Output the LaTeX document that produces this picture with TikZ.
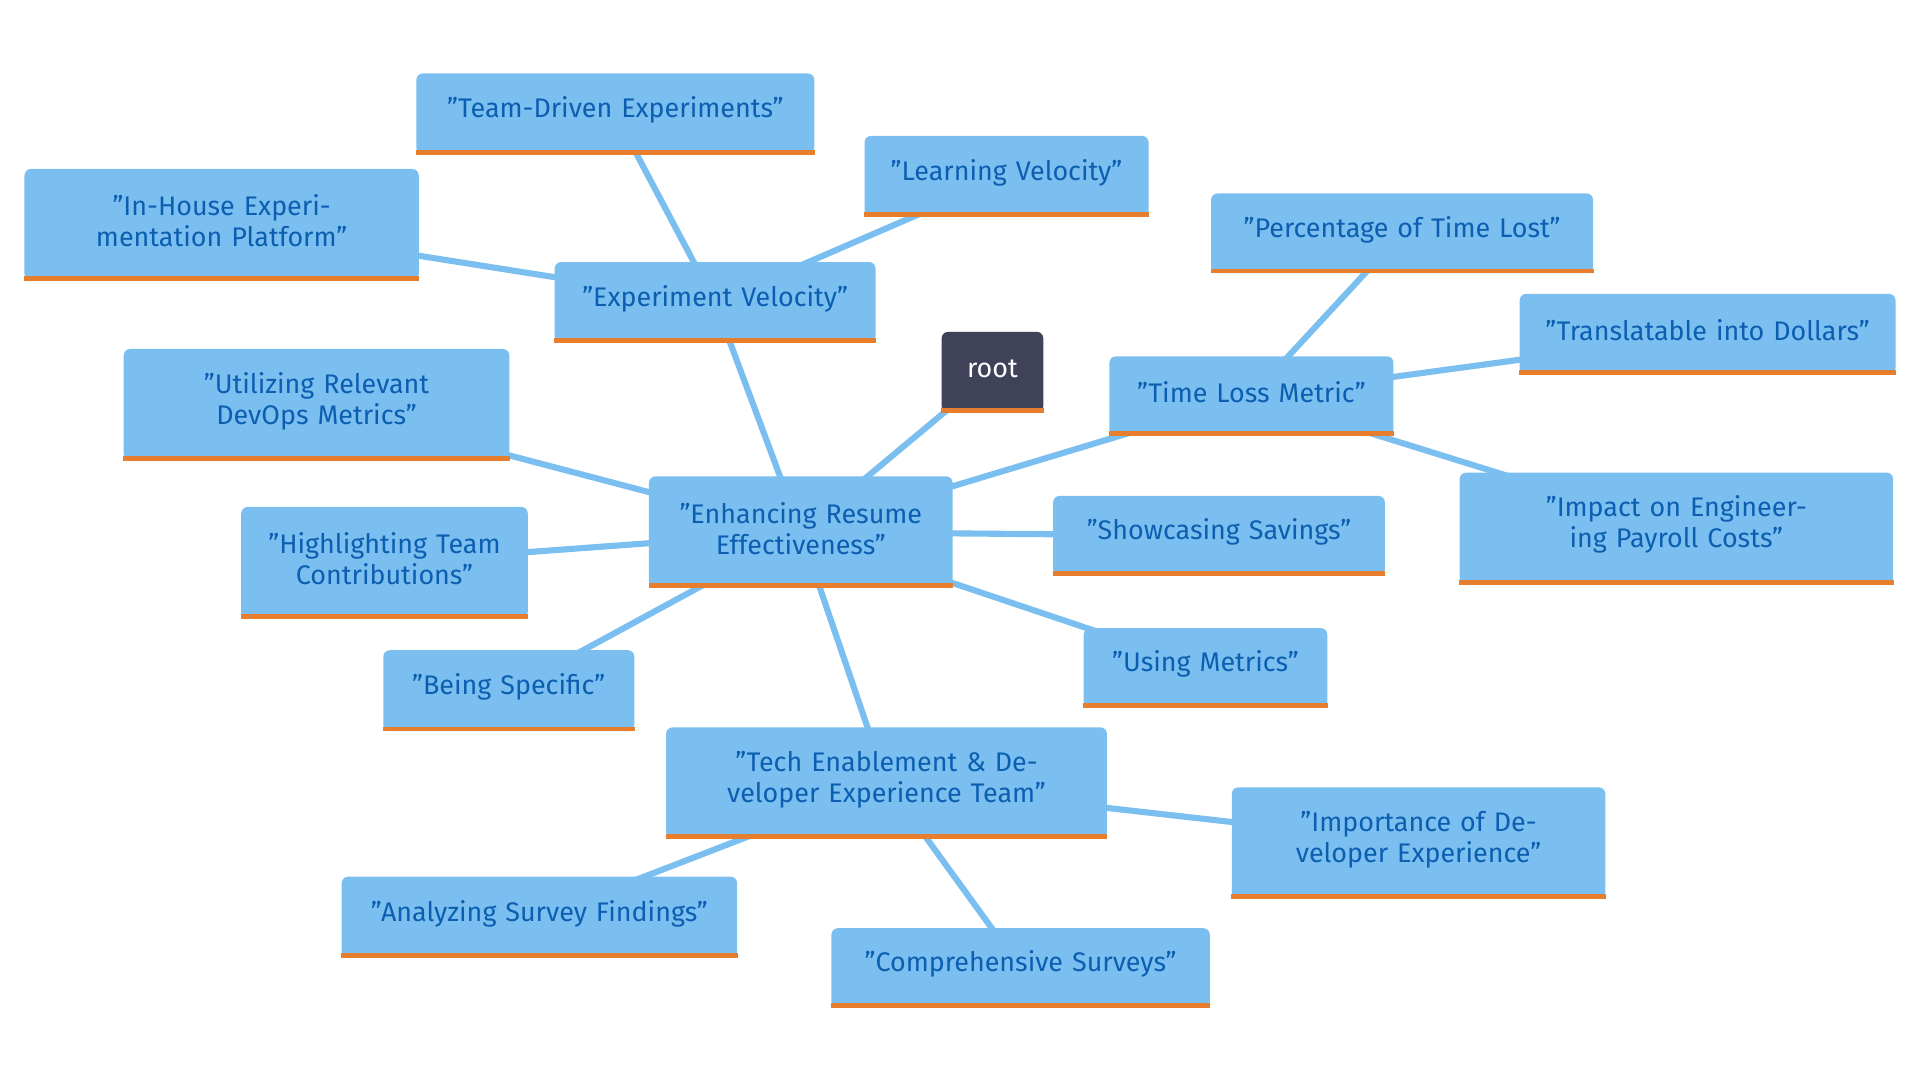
\documentclass[tikz,border=0pt]{standalone}
\usepackage{fontspec}
\setmainfont{Fira Sans}
\usetikzlibrary{backgrounds}
\definecolor{boxblue}{HTML}{7BBFF0}
\definecolor{textblue}{HTML}{0B5EB0}
\definecolor{barorange}{HTML}{E67E2E}
\definecolor{rootgrey}{HTML}{3F4259}
\tikzset{
  topic/.style={fill=boxblue, text=textblue, rounded corners=3pt, align=center,
    inner sep=0pt, font=\fontsize{12.5}{14.5}\selectfont},
  rootnode/.style={topic, fill=rootgrey, text=white},
  bar/.style={barorange, line width=0.08cm},
  link/.style={boxblue, line width=0.1cm}
}
% box from corner (x1,y1) to (x2,y2), with orange bottom bar
\newcommand{\mmbox}[7][topic]{%
  \pgfmathsetmacro\cx{(#3+#5)/2}
  \pgfmathsetmacro\cy{(#4+#6)/2}
  \pgfmathsetmacro\bw{(#5-#3)*0.02}
  \pgfmathsetmacro\bh{(#6-#4)*0.02}
  \pgfmathsetmacro\tw{(#5-#3)*0.02-0.5}
  \node[#1, minimum width=\bw cm, minimum height=\bh cm] (#2) at (\cx,\cy) {};
  \node[#1, fill=none, text width=\tw cm] at (\cx,\cy-3) {#7};
  \draw[bar] ([yshift=0.04cm]#2.south west) -- ([yshift=0.04cm]#2.south east);
}
\begin{document}
\begin{tikzpicture}[x=0.02cm, y=-0.02cm]
  \useasboundingbox (0,0) rectangle (1568,882);

  % Boxes
  \mmbox[rootnode]{root}{769}{271}{852}{337}{root}
  \mmbox{ere}{530}{389}{778}{480}{"Enhancing Resume Effectiveness"}
  \mmbox{ev}{453}{214}{715}{280}{"Experiment Velocity"}
  \mmbox{tde}{340}{60}{665}{126}{"Team-Driven Experiments"}
  \mmbox{lv}{706}{111}{938}{177}{"Learning Velocity"}
  \mmbox{ihep}{20}{138}{342}{229}{"In-House Experimentation Platform"}
  \mmbox{tlm}{906}{291}{1138}{356}{"Time Loss Metric"}
  \mmbox{ptl}{989}{158}{1301}{223}{"Percentage of Time Lost"}
  \mmbox{tid}{1241}{240}{1548}{306}{"Translatable into Dollars"}
  \mmbox{iepc}{1192}{386}{1546}{477}{"Impact on Engineering Payroll Costs"}
  \mmbox{ss}{860}{405}{1131}{470}{"Showcasing Savings"}
  \mmbox{um}{885}{513}{1084}{578}{"Using Metrics"}
  \mmbox{tede}{544}{594}{904}{685}{"Tech Enablement \& Developer Experience Team"}
  \mmbox{ide}{1006}{643}{1311}{734}{"Importance of Developer Experience"}
  \mmbox{cs}{679}{758}{988}{823}{"Comprehensive Surveys"}
  \mmbox{asf}{279}{716}{602}{782}{"Analyzing Survey Findings"}
  \mmbox{bs}{313}{531}{518}{597}{"Being Specific"}
  \mmbox{htc}{197}{414}{431}{505}{"Highlighting Team Contributions"}
  \mmbox{urdm}{101}{285}{416}{376}{"Utilizing Relevant DevOps Metrics"}

  % Links
  \begin{pgfonlayer}{background}
    \foreach \a/\b in {root/ere, ere/ev, ev/tde, ev/lv, ev/ihep, ere/tlm,
        tlm/ptl, tlm/tid, tlm/iepc, ere/ss, ere/um, ere/tede, tede/ide,
        tede/cs, tede/asf, ere/bs, ere/htc, ere/urdm}
      \draw[link] (\a.center) -- (\b.center);
  \end{pgfonlayer}
\end{tikzpicture}
\end{document}
